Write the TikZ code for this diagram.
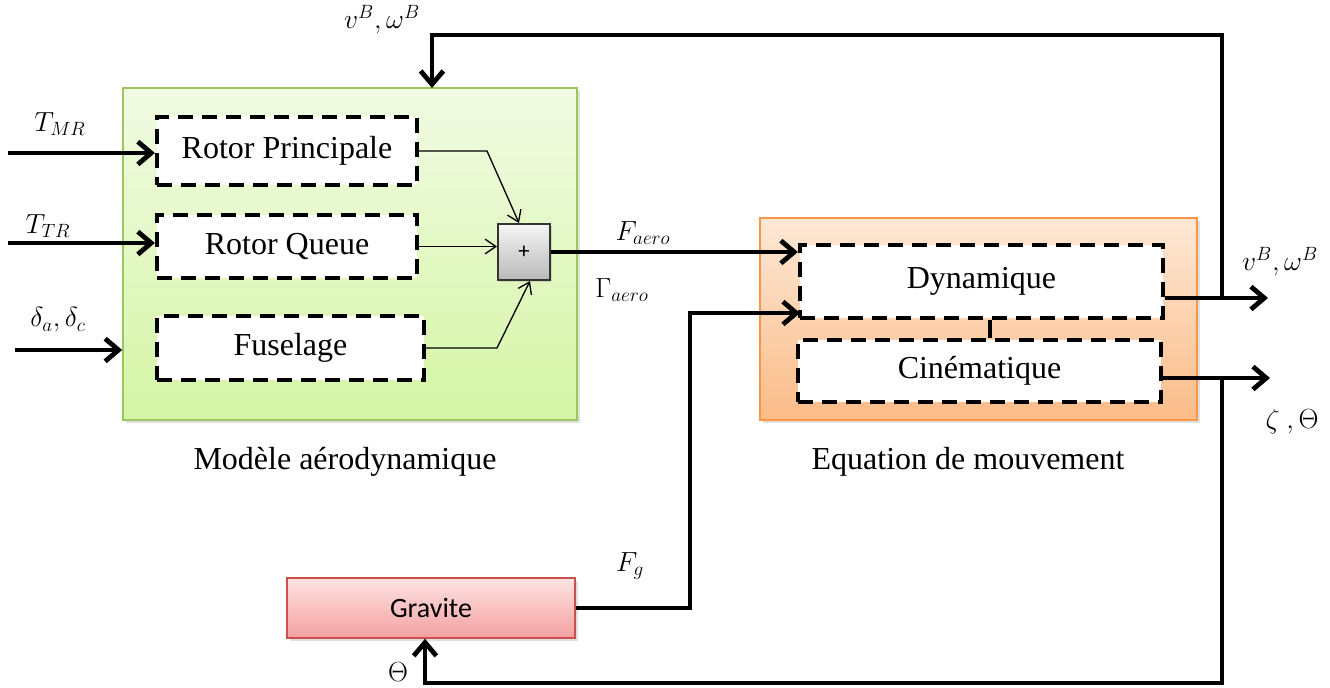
\documentclass[tikz,border=0pt]{standalone}
\usepackage{fontspec}
\setmainfont{Liberation Serif}
\newfontfamily\timesfont{Liberation Serif}
\newfontfamily\calibrisub{Carlito}
\usetikzlibrary{arrows.meta,shadows}

\definecolor{greenA}{HTML}{F1FBE3}
\definecolor{greenB}{HTML}{D5F5A5}
\definecolor{greenE}{HTML}{9BC85E}
\definecolor{orangeA}{HTML}{FDE8D6}
\definecolor{orangeB}{HTML}{FBBC88}
\definecolor{orangeE}{HTML}{F79646}
\definecolor{redA}{HTML}{FDE3E3}
\definecolor{redB}{HTML}{F4A0A0}
\definecolor{redE}{HTML}{C9504D}

\begin{document}
\begin{tikzpicture}[x=0.75pt,y=-0.75pt,
  txt/.style={font=\timesfont\fontsize{24}{28}\selectfont},
  mth/.style={font=\fontsize{20.74}{24}\selectfont},
  group/.style={rectangle,line width=1.2pt,drop shadow={opacity=0.25,shadow xshift=2pt,shadow yshift=-2pt}},
  dbox/.style={rectangle,draw=black,fill=white,line width=3.2pt,dash pattern=on 11pt off 7pt,txt},
  sumbox/.style={rectangle,draw=black!80,line width=1.5pt,top color=gray!8,bottom color=gray!55,
    minimum width=39pt,minimum height=42pt,font=\calibrisub\fontsize{17}{19}\selectfont,
    drop shadow={opacity=0.25,shadow xshift=1.5pt,shadow yshift=-1.5pt}},
  bus/.style={line width=3.6pt,-{Straight Barb[length=10pt,width=17pt,line width=3.6pt]}},
  busline/.style={line width=3.6pt},
  thin/.style={line width=1pt,-{Straight Barb[length=8pt,width=11pt,line width=1pt]}}
]
\useasboundingbox (0,0) rectangle (1330,688);

% enclosing blocks
\node[group,draw=greenE,top color=greenA,bottom color=greenB,minimum width=340.5pt,minimum height=249pt] (aero) at (350,254) {};
\node[group,draw=orangeE,top color=orangeA,bottom color=orangeB,minimum width=327.75pt,minimum height=151.5pt] (eqm) at (978.5,319) {};
\node[group,draw=redE,top color=redA,bottom color=redB,minimum width=216pt,minimum height=45pt,
  font=\calibrisub\fontsize{21}{25}\selectfont] (grav) at (431,608) {Gravite};

% inner blocks
\node[dbox,minimum width=195pt,minimum height=51pt] (rp) at (287,151) {Rotor Principale};
\node[dbox,minimum width=195pt,minimum height=47.25pt] (rq) at (287,246.5) {Rotor Queue};
\node[dbox,minimum width=200.25pt,minimum height=48pt] (fus) at (290.5,348) {Fuselage};
\node[sumbox] (sum) at (524,252) {+};
\node[dbox,minimum width=272.25pt,minimum height=54.75pt] (dyn) at (981.5,281.5) {Dynamique};
\node[dbox,minimum width=272.25pt,minimum height=46.5pt] (cin) at (979.5,371) {Cinématique};

% captions
\node[txt] (capA) at (345,462) {Modèle aérodynamique};
\node[txt] (capB) at (968,462) {Equation de mouvement};

% external inputs
\coordinate (inTMR) at (8,153);
\coordinate (inTTR) at (8,243);
\coordinate (inDel) at (15,350);
\draw[bus] (inTMR) -- (inTMR -| rp.west);
\draw[bus] (inTTR) -- (inTTR -| rq.west);
\draw[bus] (inDel) -- (inDel -| aero.west);
\node[mth] (lTMR) at (60,124) {$T_{MR}$};
\node[mth] (lTTR) at (48,226) {$T_{TR}$};
\node[mth] (lDel) at (58,320) {$\delta_a,\delta_c$};

% summation of aerodynamic efforts
\draw[thin] (rp.east) -- (487,151) -- ([xshift=-3.75pt]sum.north);
\draw[thin] (rq.east) -- (rq.east -| sum.west);
\draw[thin] (fus.east) -- (497,348) -- ([xshift=4.5pt]sum.south);

% aerodynamic efforts to the dynamics
\draw[bus] (sum.east) -- (sum.east -| dyn.west);
\node[mth] (lFa) at (643,233) {$F_{aero}$};
\node[mth] (lGa) at (622,290) {$\Gamma_{aero}$};

% gravity force
\coordinate (fgIn) at (800,313);
\draw[bus] (grav.east) -- (690,608) -- (690,313) -- (fgIn);
\node[mth] (lFg) at (630,566) {$F_g$};

% coupling of dynamics and kinematics
\draw[busline] (dyn.south -| 990,0) -- (cin.north -| 990,0);

% outputs
\coordinate (outV) at (1268,298);
\coordinate (outZ) at (1270,378);
\draw[bus] (dyn.east |- outV) -- (outV);
\draw[bus] (cin.east |- outZ) -- (outZ);
\node[mth] (lVr) at (1280,262) {$v^B,\omega^B$};
\node[mth] (lZt) at (1292,422) {$\zeta\ ,\Theta$};

% feedback of velocities
\coordinate (tapV) at (1222,298);
\draw[bus] (tapV) -- (1222,35) -- (432,35) -- (432,88);
\node[mth] (lVt) at (382,20) {$v^B,\omega^B$};

% feedback of attitude to gravity
\coordinate (tapZ) at (1222,378);
\draw[bus] (tapZ) -- (1222,683) -- (425,683) -- (grav.south -| 425,0);
\node[mth] (lTh) at (398,672) {$\Theta$};
\end{tikzpicture}
\end{document}
